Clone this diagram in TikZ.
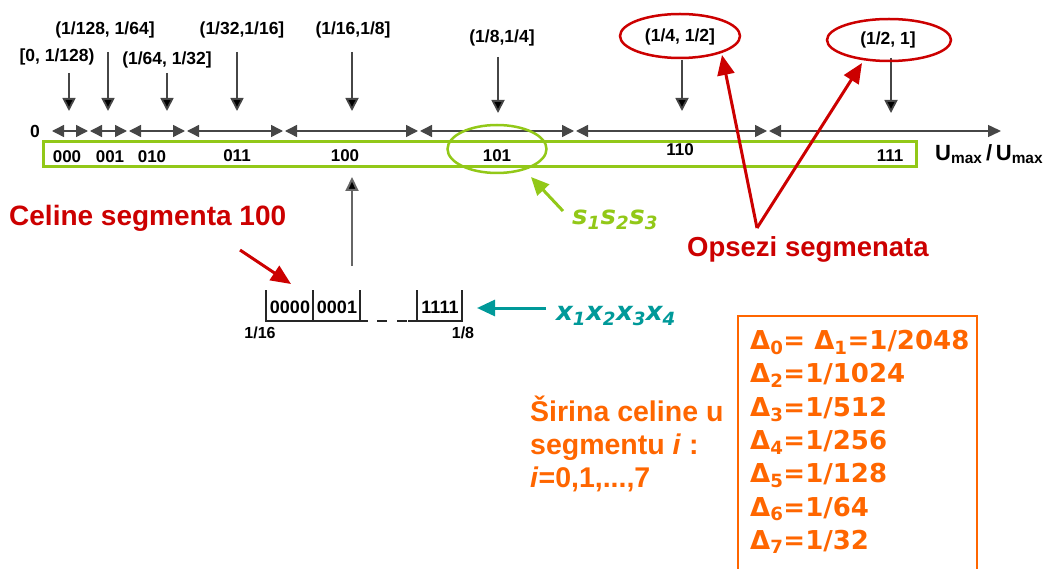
\documentclass[tikz,border=0pt]{standalone}
\usepackage{fontspec}
\setmainfont{Liberation Sans}
\newfontfamily\dv{DejaVu Sans}
\usetikzlibrary{arrows.meta,shapes.geometric}
\definecolor{lgreen}{RGB}{146,200,24}
\definecolor{dred}{RGB}{204,0,0}
\definecolor{teal2}{RGB}{0,153,153}
\definecolor{orng}{RGB}{255,102,0}
\definecolor{dgray}{RGB}{70,70,70}
\tikzset{
  lbl/.style={font=\bfseries\fontsize{17.5}{19}\selectfont, inner sep=1pt},
  seglbl/.style={font=\bfseries\fontsize{17}{19}\selectfont, inner sep=1pt},
  darr/.style={draw=dgray, line width=1.8pt, -{Triangle[length=13pt,width=13pt,fill=black]}},
  seg/.style={draw=dgray, line width=1.4pt, {Triangle[length=12pt,width=12pt]}-{Triangle[length=12pt,width=12pt]}},
  redarr/.style={draw=dred, line width=3pt, -{Triangle[length=20pt,width=17pt]}},
  bigred/.style={text=dred, inner sep=0pt},
  orangetxt/.style={text=orng, inner sep=0pt, align=left},
  cellline/.style={draw=black!85, line width=1.3pt},
  celltxt/.style={font=\bfseries\fontsize{18}{19}\selectfont, inner sep=1pt},
}
\begin{document}
\begin{tikzpicture}[x=1pt,y=-1pt]
\useasboundingbox (0,0) rectangle (1051,569);
% axis
\node[lbl] (zero) at (35,131) {0};
\coordinate (b0) at (52,131);
\coordinate (b1) at (89,131);
\coordinate (b2) at (128,131);
\coordinate (b3) at (186,131);
\coordinate (b4) at (284,131);
\coordinate (b5) at (419,131);
\coordinate (b6) at (575,131);
\coordinate (b7) at (768,131);
\coordinate (bend) at (1001,131);
\draw[seg] (b0) -- ([xshift=-1pt]b1);
\draw[seg] ([xshift=1pt]b1) -- ([xshift=-1pt]b2);
\draw[seg] ([xshift=1pt]b2) -- ([xshift=-1pt]b3);
\draw[seg] ([xshift=1pt]b3) -- ([xshift=-1pt]b4);
\draw[seg] ([xshift=1pt]b4) -- ([xshift=-1pt]b5);
\draw[seg] ([xshift=1pt]b5) -- ([xshift=-1pt]b6);
\draw[seg] ([xshift=1pt]b6) -- ([xshift=-1pt]b7);
\draw[draw=dgray, line width=1.4pt, {Triangle[length=12pt,width=12pt]}-{Triangle[length=13pt,width=12pt]}] ([xshift=1pt]b7) -- (bend);
% green box
\node[draw=lgreen, line width=3pt, minimum width=873pt, minimum height=25pt, inner sep=0pt] (box) at (480,154.5) {};
\node[seglbl] (s000) at (67,157) {000};
\node[seglbl] (s001) at (110,157) {001};
\node[seglbl] (s010) at (152,157) {010};
\node[seglbl] (s011) at (237,156) {011};
\node[seglbl] (s100) at (345,156) {100};
\node[seglbl] (s101) at (497,156) {101};
\node[seglbl] (s110) at (680,150) {110};
\node[seglbl] (s111) at (890,156) {111};
\node[lbl, font=\bfseries\fontsize{22}{24}\selectfont, anchor=west] (umax) at (934,154) {U\textsubscript{max}\,/\,U\textsubscript{max}};
% interval labels
\node[lbl] (L1) at (57,57) {[0, 1/128)};
\node[lbl] (L2) at (105,30) {(1/128, 1/64]};
\node[lbl] (L3) at (167,60) {(1/64, 1/32]};
\node[lbl] (L4) at (242,30) {(1/32,1/16]};
\node[lbl] (L5) at (353,30) {(1/16,1/8]};
\node[lbl] (L6) at (502,38) {(1/8,1/4]};
\node[lbl] (L7) at (680,37) {(1/4, 1/2]};
\node[lbl] (L8) at (888,40) {(1/2, 1]};
\coordinate (t1) at (69,73); \coordinate (h1) at (69,111);
\coordinate (t2) at (108,52); \coordinate (h2) at (108,111);
\coordinate (t3) at (167,73); \coordinate (h3) at (167,111);
\coordinate (t4) at (237,52); \coordinate (h4) at (237,111);
\coordinate (t5) at (352,52); \coordinate (h5) at (352,111);
\coordinate (t6) at (498,57); \coordinate (h6) at (498,113);
\coordinate (t7) at (682,60); \coordinate (h7) at (682,111);
\coordinate (t8) at (891,58); \coordinate (h8) at (891,113);
\foreach \i in {1,...,8} {\draw[darr] (t\i) -- (h\i);}
% ellipses
\node[ellipse, draw=dred, line width=2.5pt, minimum width=120pt, minimum height=44pt] (e7) at (680,36) {};
\node[ellipse, draw=dred, line width=2.5pt, minimum width=124pt, minimum height=42pt] (e8) at (889,40) {};
\node[ellipse, draw=lgreen, line width=2.5pt, minimum width=99pt, minimum height=48pt] (e101) at (497,149) {};
% s1s2s3
\node[text=lgreen, font=\dv\bfseries\itshape\fontsize{26}{30}\selectfont, inner sep=0pt] (s123) at (615,220) {s\textsubscript{1}s\textsubscript{2}s\textsubscript{3}};
\coordinate (gtail) at (563,211);
\coordinate (ghead) at (531,177);
\draw[draw=lgreen, line width=3pt, -{Triangle[length=18pt,width=16pt]}] (gtail) -- (ghead);
% Opsezi
\node[bigred, anchor=west, font=\bfseries\fontsize{27.5}{30}\selectfont] (ops) at (687,249) {Opsezi segmenata};
\coordinate (rc) at (757,228);
\coordinate (rh1) at (722,55);
\coordinate (rh2) at (862,63);
\draw[redarr] (rc) -- (rh1);
\draw[redarr] (rc) -- (rh2);
% Celine segmenta
\node[bigred, anchor=west, font=\bfseries\fontsize{28}{30}\selectfont] (cel) at (9,218) {Celine segmenta 100};
\coordinate (ct) at (240,250);
\coordinate (ch) at (291,284);
\draw[redarr] (ct) -- (ch);
% up arrow
\coordinate (ut) at (352,266);
\coordinate (uh) at (352,177);
\draw[draw=gray!80!black, line width=2pt, -{Triangle[length=14pt,width=13pt,fill=black]}] (ut) -- (uh);
% cells
\draw[cellline] (266,290) -- (266,321) -- (368,321);
\draw[cellline] (313,290) -- (313,321);
\draw[cellline] (360,290) -- (360,321);
\draw[cellline, dash pattern=on 10pt off 10pt] (377,321) -- (408,321);
\draw[cellline] (408,321) -- (462,321) -- (462,290);
\draw[cellline] (417,290) -- (417,321);
\node[celltxt] (c0) at (290,307) {0000};
\node[celltxt] (c1) at (337,307) {0001};
\node[celltxt] (c15) at (440,307) {1111};
\node[lbl, font=\bfseries\fontsize{16}{18}\selectfont] (f16) at (260,333) {1/16};
\node[lbl, font=\bfseries\fontsize{16}{18}\selectfont] (f8) at (463,333) {1/8};
% teal arrow
\coordinate (tt) at (546,308);
\coordinate (th) at (477,308);
\draw[draw=teal2, line width=3pt, -{Triangle[length=18pt,width=16pt]}] (tt) -- (th);
\node[text=teal2, font=\dv\bfseries\itshape\fontsize{26}{30}\selectfont, inner sep=0pt] (x1234) at (616,316) {x\textsubscript{1}x\textsubscript{2}x\textsubscript{3}x\textsubscript{4}};
% orange
\node[orangetxt, anchor=north west, font=\bfseries\fontsize{28.5}{33}\selectfont] (sir) at (530,396) {Širina celine u\\segmentu \textit{i} :\\\textit{i}=0,1,...,7};
\draw[draw=orng, line width=2.5pt] (738,569) -- (738,316) coordinate (obl) -- (977,316) coordinate (obr) -- (977,569);
\node[orangetxt, anchor=north west, font=\dv\bfseries\fontsize{26}{33.3}\selectfont] (del) at (750,330) {%
Δ\textsubscript{0}= Δ\textsubscript{1}=1/2048\\
Δ\textsubscript{2}=1/1024\\
Δ\textsubscript{3}=1/512\\
Δ\textsubscript{4}=1/256\\
Δ\textsubscript{5}=1/128\\
Δ\textsubscript{6}=1/64\\
Δ\textsubscript{7}=1/32};
\end{tikzpicture}
\end{document}
